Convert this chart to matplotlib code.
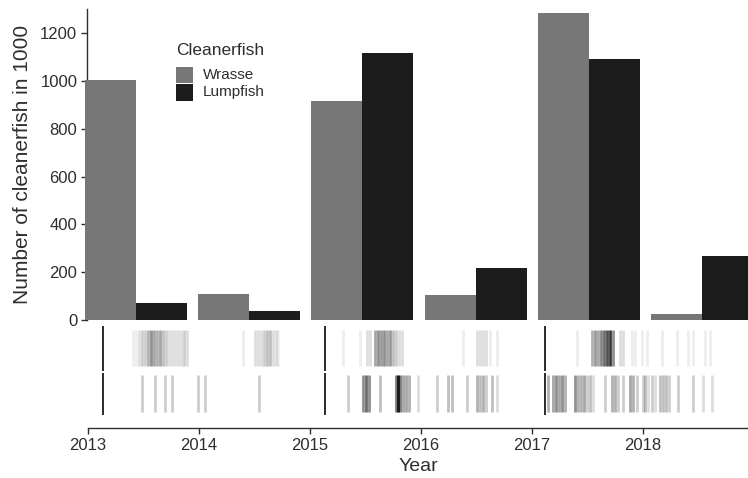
import matplotlib
matplotlib.use("Agg")
import matplotlib.pyplot as plt
from matplotlib.patches import Rectangle

plt.rcParams["font.family"] = ["Liberation Sans", "DejaVu Sans"]

# Cleanerfish stocked per production year (thousands)
periods = [1, 2, 3, 4, 5, 6]
wrasse = [1004, 109, 918, 103, 1284, 25]
lumpfish = [70, 36, 1117, 219, 1094, 269]
species = ["Wrasse", "Lumpfish"]

# Start of each production cycle (decimal years)
cycle_starts = [2013.135, 2015.133, 2017.12]

# Stocking events (decimal year, number of pens)
wrasse_dates = [2013.406, 2013.433, 2013.460, 2013.487, 2013.514, 2013.541, 2013.568,
                2013.595, 2013.622, 2013.649, 2013.676, 2013.703, 2013.730, 2013.757,
                2013.784, 2013.812, 2013.839, 2013.866, 2013.893,
                2014.398, 2014.506, 2014.533, 2014.560, 2014.587, 2014.614, 2014.641,
                2014.668, 2014.695, 2014.713,
                2015.299, 2015.453, 2015.516, 2015.543, 2015.588, 2015.615, 2015.642,
                2015.669, 2015.696, 2015.723, 2015.750, 2015.777, 2015.804, 2015.831,
                2016.381, 2016.508, 2016.535, 2016.562, 2016.589, 2016.625, 2016.688,
                2017.409, 2017.545, 2017.572, 2017.599, 2017.626, 2017.653, 2017.680,
                2017.707, 2017.734, 2017.797, 2017.824, 2017.905, 2017.932, 2017.996,
                2018.041, 2018.176, 2018.311, 2018.410, 2018.455, 2018.563, 2018.609]
wrasse_counts = [1, 1, 2, 3, 3, 5, 8, 6, 5, 6, 4, 3, 2, 2, 2, 2, 2, 3, 2,
                 1, 2, 2, 2, 3, 4, 4, 2, 2, 1,
                 1, 1, 2, 2, 6, 8, 7, 8, 6, 7, 4, 3, 2, 2,
                 1, 2, 2, 2, 2, 1, 1,
                 1, 5, 7, 6, 9, 12, 16, 20, 8, 2, 2, 1, 1, 1,
                 1, 1, 1, 1, 1, 1, 1]

lumpfish_dates = [2013.484, 2013.604, 2013.694, 2013.757, 2013.992, 2014.055, 2014.542,
                  2015.344, 2015.480, 2015.507, 2015.534, 2015.633, 2015.777, 2015.795,
                  2015.813, 2015.840, 2015.868, 2015.895, 2015.976, 2016.147, 2016.246,
                  2016.282, 2016.417, 2016.508, 2016.535, 2016.562, 2016.589, 2016.643,
                  2016.688,
                  2017.148, 2017.193, 2017.220, 2017.247, 2017.274, 2017.301, 2017.391,
                  2017.418, 2017.445, 2017.472, 2017.499, 2017.527, 2017.554, 2017.662,
                  2017.725, 2017.752, 2017.779, 2017.824, 2017.887, 2017.914, 2017.950,
                  2018.004, 2018.023, 2018.050, 2018.086, 2018.113, 2018.158, 2018.185,
                  2018.212, 2018.239, 2018.320, 2018.455, 2018.545, 2018.627]
lumpfish_counts = [3, 3, 3, 3, 3, 3, 3,
                   3, 8, 12, 8, 4, 10, 30, 10, 6, 6, 5, 2, 3, 4, 4, 3, 5, 4, 5, 3, 4, 2,
                   5, 6, 8, 6, 8, 5, 8, 5, 5, 6, 3, 4, 2, 3, 5, 5, 3, 3, 6, 5, 3,
                   3, 4, 2, 3, 2, 4, 4, 4, 3, 3, 3, 2, 2]

year_ticks = [2013, 2014, 2015, 2016, 2017, 2018]

W, H = 748, 478
fig = plt.figure(figsize=(W / 100, H / 100), dpi=100)

def px_axes(left, top, right, bottom):
    return fig.add_axes([left / W, (H - bottom) / H, (right - left) / W, (bottom - top) / H])

text_col = "#2e2e2e"
wrasse_col = "#777777"
lump_col = "#1c1c1c"
colors = [wrasse_col, lump_col]

# ---- Bar panel ----
ax = px_axes(87, 9.3, 748, 320)
unit = 113.2
x0 = 1 - (136 - 87) / unit
ax.set_xlim(x0, x0 + (748 - 87) / unit)
ax.set_ylim(0, 1300)
bw = 0.45
ax.bar([p - bw / 2 for p in periods], wrasse, width=bw, color=wrasse_col, clip_on=False, zorder=2)
ax.bar([p + bw / 2 for p in periods], lumpfish, width=bw, color=lump_col, clip_on=False, zorder=2)
for s in ["top", "right", "bottom"]:
    ax.spines[s].set_visible(False)
ax.spines["left"].set_color(text_col)
ax.spines["left"].set_linewidth(1.0)
ax.spines["left"].set_zorder(1)
ax.set_xticks([])
ax.set_yticks(range(0, 1201, 200))
ax.tick_params(axis="y", length=4, width=1.0, color=text_col, labelcolor=text_col,
               labelsize=12, pad=3)
ax.set_ylabel("Number of cleanerfish in 1000", fontsize=15, color=text_col, labelpad=6)
ax.patch.set_alpha(0)

# Legend: stacked square keys under the title (pixel layout)
fig.text(176 / W, 1 - 50.7 / H, "Cleanerfish", fontsize=12.5, color=text_col,
         ha="left", va="center")
key_top, key_size = 66.7, 17.2
for i, (name, col) in enumerate(zip(species, colors)):
    top = key_top + i * key_size
    fig.add_artist(Rectangle((176 / W, 1 - (top + key_size - 0.6) / H),
                             17 / W, (key_size - 0.6) / H,
                             transform=fig.transFigure, facecolor=col, edgecolor="none"))
    fig.text(203 / W, 1 - (top + key_size / 2) / H, name, fontsize=11, color=text_col,
             ha="left", va="center")

# ---- Event panel ----
bx = px_axes(88, 322, 748, 428)
bx.set_xlim(2013, 2013 + (748 - 88) / 110.9)
bx.set_ylim(0, 1)
alpha_unit = 0.07
rows = [(wrasse_dates, wrasse_counts, 0.585, 0.925),
        (lumpfish_dates, lumpfish_counts, 0.151, 0.5)]
for dates, counts, y0, y1 in rows:
    for d, c in zip(dates, counts):
        a = 1 - (1 - alpha_unit) ** c
        bx.vlines(d, y0, y1, color="black", alpha=a, lw=2.0)
for d in cycle_starts:
    bx.vlines(d, 0.538, 0.962, color="#2a2a2a", lw=1.4)
    bx.vlines(d, 0.123, 0.519, color="#2a2a2a", lw=1.4)

for s in ["top", "right", "left"]:
    bx.spines[s].set_visible(False)
bx.spines["bottom"].set_color(text_col)
bx.spines["bottom"].set_linewidth(1.0)
bx.set_yticks([])
bx.set_xticks(year_ticks)
bx.set_xticklabels([str(y) for y in year_ticks])
bx.tick_params(axis="x", length=4, width=1.0, color=text_col, labelcolor=text_col,
               labelsize=12, pad=3)
bx.set_xlabel("Year", fontsize=14, color=text_col, labelpad=4)
bx.patch.set_alpha(0)

fig.savefig("out.png", dpi=100)
